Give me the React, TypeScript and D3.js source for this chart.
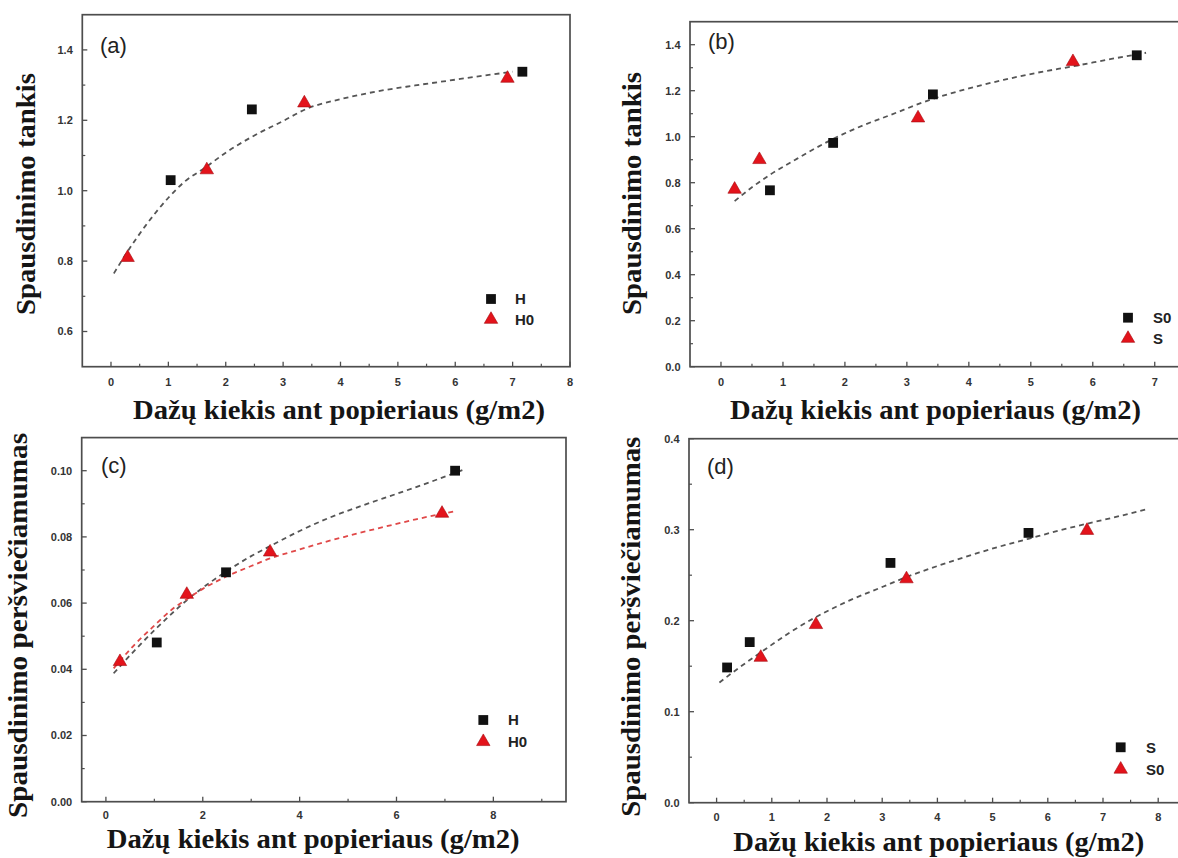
import React from 'react';
import * as d3 from 'd3';

// ---------- Panel (a) data ----------
const aHx = [1.04, 2.455, 7.17];
const aHy = [1.03, 1.231, 1.338];
const aH0x = [0.29, 1.67, 3.37, 6.91];
const aH0y = [0.81, 1.059, 1.249, 1.319];
const aFitX = [0.05, 0.3, 0.6, 1.0, 1.3, 1.62, 2.0, 2.5, 3.0, 3.4, 4.0, 4.6, 5.3, 5.9, 6.5, 7.0];
const aFitY = [0.765, 0.83, 0.9, 0.98, 1.028, 1.063, 1.108, 1.157, 1.198, 1.232, 1.26, 1.281, 1.299, 1.313, 1.327, 1.338];
const aXTicks = [0, 1, 2, 3, 4, 5, 6, 7, 8];
const aXMinor = [0.5, 1.5, 2.5, 3.5, 4.5, 5.5, 6.5, 7.5];
const aYTicks = [0.6, 0.8, 1.0, 1.2, 1.4];
const aYMinor = [0.7, 0.9, 1.1, 1.3];

// ---------- Panel (b) data ----------
const bS0x = [0.79, 1.81, 3.42, 6.71];
const bS0y = [0.767, 0.973, 1.184, 1.354];
const bSx = [0.22, 0.62, 3.18, 5.68];
const bSy = [0.771, 0.9, 1.081, 1.326];
const bFitX = [0.22, 0.5, 0.8, 1.2, 1.77, 2.3, 2.74, 3.35, 4.0, 4.56, 5.1, 5.68, 6.3, 6.86];
const bFitY = [0.72, 0.78, 0.836, 0.9, 0.985, 1.05, 1.095, 1.158, 1.21, 1.247, 1.278, 1.306, 1.338, 1.365];
const bXTicks = [0, 1, 2, 3, 4, 5, 6, 7];
const bXMinor = [0.5, 1.5, 2.5, 3.5, 4.5, 5.5, 6.5];
const bYTicks = [0.0, 0.2, 0.4, 0.6, 0.8, 1.0, 1.2, 1.4];
const bYMinor = [0.1, 0.3, 0.5, 0.7, 0.9, 1.1, 1.3];

// ---------- Panel (c) data ----------
const cHx = [1.05, 2.48, 7.21];
const cHy = [0.0481, 0.0693, 0.1];
const cH0x = [0.29, 1.67, 3.39, 6.94];
const cH0y = [0.0423, 0.0626, 0.0754, 0.0871];
const cFitHX = [0.16, 0.6, 1.05, 1.74, 2.48, 3.0, 3.39, 4.0, 4.6, 5.3, 6.0, 6.7, 7.36];
const cFitHY = [0.0388, 0.0458, 0.0525, 0.0617, 0.0695, 0.0742, 0.0772, 0.0818, 0.0857, 0.0895, 0.093, 0.0966, 0.1002];
const cFitH0X = [0.16, 0.55, 0.97, 1.4, 1.67, 2.0, 2.44, 3.0, 3.39, 4.0, 4.46, 5.0, 5.62, 6.4, 7.25];
const cFitH0Y = [0.0403, 0.0468, 0.0528, 0.0585, 0.0612, 0.0643, 0.0677, 0.0712, 0.0735, 0.0762, 0.0782, 0.0803, 0.0826, 0.0853, 0.0879];
const cXTicks = [0, 2, 4, 6, 8];
const cXMinor = [1, 3, 5, 7, 9];
const cYTicks = [0.0, 0.02, 0.04, 0.06, 0.08, 0.1];
const cYMinor = [0.01, 0.03, 0.05, 0.07, 0.09];

// ---------- Panel (d) data ----------
const dSx = [0.19, 0.6, 3.15, 5.65];
const dSy = [0.1486, 0.1765, 0.2635, 0.2965];
const dS0x = [0.8, 1.8, 3.44, 6.71];
const dS0y = [0.1596, 0.1956, 0.2459, 0.2991];
const dFitX = [0.05, 0.4, 0.82, 1.3, 1.77, 2.4, 3.0, 3.44, 3.9, 4.5, 5.1, 5.65, 6.2, 6.74, 7.3, 7.83];
const dFitY = [0.132, 0.148, 0.166, 0.186, 0.203, 0.222, 0.237, 0.248, 0.258, 0.27, 0.281, 0.29, 0.299, 0.307, 0.315, 0.323];
const dXTicks = [0, 1, 2, 3, 4, 5, 6, 7, 8];
const dXMinor = [0.5, 1.5, 2.5, 3.5, 4.5, 5.5, 6.5, 7.5];
const dYTicks = [0.0, 0.1, 0.2, 0.3, 0.4];
const dYMinor = [0.05, 0.15, 0.25, 0.35];

// ---------- texts ----------
const xTitle = 'Dažų kiekis ant popieriaus (g/m2)';
const yTitleTop = 'Spausdinimo tankis';
const yTitleBottom = 'Spausdinimo peršviečiamumas';

const zip = (xs: number[], ys: number[]) => xs.map((v, i) => [v, ys[i]] as [number, number]);

type PanelCfg = {
  label: string;
  left: number; right: number; top: number; bottom: number;
  xDomain: [number, number]; yDomain: [number, number];
  xTicks: number[]; xMinor: number[]; yTicks: number[]; yMinor: number[];
  yFmt: string;
  squares: [number, number][]; triangles: [number, number][];
  fits: { pts: [number, number][]; color: string }[];
  legendSquare: string; legendTriangle: string;
  legX: number; legY1: number; legY2: number; legTextX: number;
  labelX: number; labelY: number;
  xTickY: number;
  xTitleX: number; xTitleY: number; xTitleLen: number;
  yTitle: string; yTitleX: number; yTitleY: number; yTitleLen: number;
};

const GRAY = '#4d4d4d';
const FIT_GRAY = '#555';

const panels: PanelCfg[] = [
  {
    label: '(a)', left: 82.3, right: 570, top: 14.7, bottom: 366.7,
    xDomain: [-0.5, 8], yDomain: [0.5, 1.5],
    xTicks: aXTicks, xMinor: aXMinor, yTicks: aYTicks, yMinor: aYMinor, yFmt: '.1f',
    squares: zip(aHx, aHy), triangles: zip(aH0x, aH0y),
    fits: [{ pts: zip(aFitX, aFitY), color: FIT_GRAY }],
    legendSquare: 'H', legendTriangle: 'H0',
    legX: 491, legY1: 299, legY2: 319.5, legTextX: 515,
    labelX: 100, labelY: 53,
    xTickY: 386,
    xTitleX: 133, xTitleY: 418.5, xTitleLen: 412,
    yTitle: yTitleTop, yTitleX: 35, yTitleY: 194, yTitleLen: 242,
  },
  {
    label: '(b)', left: 690, right: 1216.7, top: 21.7, bottom: 366.7,
    xDomain: [-0.5, 8], yDomain: [0, 1.5],
    xTicks: bXTicks, xMinor: bXMinor, yTicks: bYTicks, yMinor: bYMinor, yFmt: '.1f',
    squares: zip(bS0x, bS0y), triangles: zip(bSx, bSy),
    fits: [{ pts: zip(bFitX, bFitY), color: FIT_GRAY }],
    legendSquare: 'S0', legendTriangle: 'S',
    legX: 1128, legY1: 317.7, legY2: 338.5, legTextX: 1153,
    labelX: 708, labelY: 49,
    xTickY: 386,
    xTitleX: 730, xTitleY: 418.5, xTitleLen: 411,
    yTitle: yTitleTop, yTitleX: 641, yTitleY: 193.5, yTitleLen: 243,
  },
  {
    label: '(c)', left: 81.7, right: 566, top: 437.6, bottom: 801.7,
    xDomain: [-0.5, 9.5], yDomain: [0, 0.11],
    xTicks: cXTicks, xMinor: cXMinor, yTicks: cYTicks, yMinor: cYMinor, yFmt: '.2f',
    squares: zip(cHx, cHy), triangles: zip(cH0x, cH0y),
    fits: [
      { pts: zip(cFitHX, cFitHY), color: FIT_GRAY },
      { pts: zip(cFitH0X, cFitH0Y), color: '#e04848' },
    ],
    legendSquare: 'H', legendTriangle: 'H0',
    legX: 483.3, legY1: 720, legY2: 741.7, legTextX: 508,
    labelX: 101, labelY: 473,
    xTickY: 819,
    xTitleX: 106.7, xTitleY: 848, xTitleLen: 413,
    yTitle: yTitleBottom, yTitleX: 27, yTitleY: 625.5, yTitleLen: 385,
  },
  {
    label: '(d)', left: 689, right: 1185.8, top: 438.7, bottom: 802.7,
    xDomain: [-0.5, 8.5], yDomain: [0, 0.4],
    xTicks: dXTicks, xMinor: dXMinor, yTicks: dYTicks, yMinor: dYMinor, yFmt: '.1f',
    squares: zip(dSx, dSy), triangles: zip(dS0x, dS0y),
    fits: [{ pts: zip(dFitX, dFitY), color: FIT_GRAY }],
    legendSquare: 'S', legendTriangle: 'S0',
    legX: 1120.7, legY1: 747.3, legY2: 769.3, legTextX: 1146,
    labelX: 707, labelY: 473.5,
    xTickY: 821,
    xTitleX: 733.3, xTitleY: 851, xTitleLen: 411,
    yTitle: yTitleBottom, yTitleX: 640, yTitleY: 626.7, yTitleLen: 380,
  },
];

const squarePath = d3.symbol(d3.symbolSquare, 96)()!;
const trianglePath = d3.symbol(d3.symbolTriangle, 78)()!;
const RED = '#e3131b';
const RED_EDGE = '#a40c10';

function Panel({ p }: { p: PanelCfg }) {
  const x = d3.scaleLinear().domain(p.xDomain).range([p.left, p.right]);
  const y = d3.scaleLinear().domain(p.yDomain).range([p.bottom, p.top]);
  const line = d3
    .line<[number, number]>()
    .x((d) => x(d[0]))
    .y((d) => y(d[1]))
    .curve(d3.curveMonotoneX);
  const yf = d3.format(p.yFmt);
  const tickFont = { fontFamily: 'Liberation Sans, Arial, sans-serif', fontWeight: 700, fontSize: 11 };
  return (
    <g>
      <rect
        x={p.left}
        y={p.top}
        width={p.right - p.left}
        height={p.bottom - p.top}
        fill="none"
        stroke={GRAY}
        strokeWidth={1.7}
      />
      {p.xTicks.map((v) => (
        <g key={'xt' + v}>
          <line x1={x(v)} x2={x(v)} y1={p.bottom} y2={p.bottom - 5} stroke={GRAY} strokeWidth={1.3} />
          <text x={x(v)} y={p.xTickY} textAnchor="middle" fill="#333" style={tickFont}>
            {String(v)}
          </text>
        </g>
      ))}
      {p.xMinor.map((v) => (
        <line key={'xm' + v} x1={x(v)} x2={x(v)} y1={p.bottom} y2={p.bottom - 3} stroke={GRAY} strokeWidth={1.2} />
      ))}
      {p.yTicks.map((v) => (
        <g key={'yt' + v}>
          <line x1={p.left} x2={p.left + 5} y1={y(v)} y2={y(v)} stroke={GRAY} strokeWidth={1.3} />
          <text x={p.left - 9.5} y={y(v)} dy="0.36em" textAnchor="end" fill="#333" style={tickFont}>
            {yf(v)}
          </text>
        </g>
      ))}
      {p.yMinor.map((v) => (
        <line key={'ym' + v} x1={p.left} x2={p.left + 3} y1={y(v)} y2={y(v)} stroke={GRAY} strokeWidth={1.2} />
      ))}
      {p.fits.map((f, i) => (
        <path
          key={'fit' + i}
          d={line(f.pts) || ''}
          fill="none"
          stroke={f.color}
          strokeWidth={1.8}
          strokeDasharray="5,4"
        />
      ))}
      {p.squares.map((d, i) => (
        <path key={'sq' + i} d={squarePath} transform={`translate(${x(d[0])},${y(d[1])})`} fill="#111" />
      ))}
      {p.triangles.map((d, i) => (
        <path
          key={'tr' + i}
          d={trianglePath}
          transform={`translate(${x(d[0])},${y(d[1])})`}
          fill={RED}
          stroke={RED_EDGE}
          strokeWidth={0.6}
        />
      ))}
      <path d={squarePath} transform={`translate(${p.legX},${p.legY1})`} fill="#111" />
      <path d={trianglePath} transform={`translate(${p.legX},${p.legY2})`} fill={RED} stroke={RED_EDGE} strokeWidth={0.6} />
      <text
        x={p.legTextX}
        y={p.legY1}
        dy="0.36em"
        fill="#222"
        style={{ fontFamily: 'Liberation Sans, Arial, sans-serif', fontWeight: 700, fontSize: 15 }}
      >
        {p.legendSquare}
      </text>
      <text
        x={p.legTextX}
        y={p.legY2}
        dy="0.36em"
        fill="#222"
        style={{ fontFamily: 'Liberation Sans, Arial, sans-serif', fontWeight: 700, fontSize: 15 }}
      >
        {p.legendTriangle}
      </text>
      <text
        x={p.labelX}
        y={p.labelY}
        fill="#222"
        style={{ fontFamily: 'Liberation Sans, Arial, sans-serif', fontSize: 22 }}
      >
        {p.label}
      </text>
      <text
        x={p.xTitleX}
        y={p.xTitleY}
        textLength={p.xTitleLen}
        lengthAdjust="spacingAndGlyphs"
        fill="#151515"
        style={{ fontFamily: 'Liberation Serif, Times New Roman, serif', fontWeight: 700, fontSize: 27 }}
      >
        {xTitle}
      </text>
      <text
        transform={`translate(${p.yTitleX},${p.yTitleY}) rotate(-90)`}
        x={-p.yTitleLen / 2}
        y={0}
        textLength={p.yTitleLen}
        lengthAdjust="spacingAndGlyphs"
        fill="#151515"
        style={{ fontFamily: 'Liberation Serif, Times New Roman, serif', fontWeight: 700, fontSize: 27 }}
      >
        {p.yTitle}
      </text>
    </g>
  );
}

export default function App() {
  return (
    <svg
      width={1178}
      height={858}
      style={{ position: 'absolute', left: 0, top: 0, background: '#fff' }}
      xmlns="http://www.w3.org/2000/svg"
    >
      <rect x={0} y={0} width={1178} height={858} fill="#fff" />
      {panels.map((p) => (
        <Panel key={p.label} p={p} />
      ))}
    </svg>
  );
}
